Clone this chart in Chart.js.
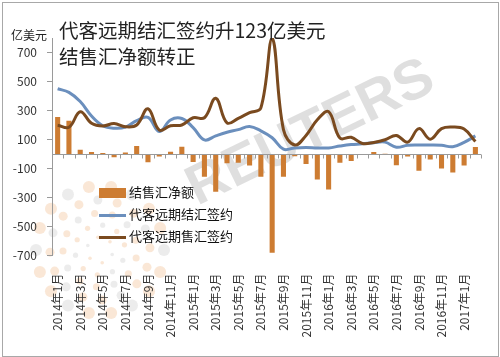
<!DOCTYPE html>
<html>
<head>
<meta charset="utf-8">
<script src="https://cdn.jsdelivr.net/npm/chart.js@4.4.1/dist/chart.umd.min.js"></script>
<style>
  html, body { margin: 0; padding: 0; background: #fff; }
  #wrap { position: relative; width: 500px; height: 357px; overflow: hidden;
          font-family: "Noto Sans CJK SC", "Noto Sans", sans-serif; }
  #frame { position: absolute; left: 2px; top: 2px; width: 495px; height: 353px;
           border: 1px solid #a8a8a8; }
  #logo { position: absolute; left: 0; top: 0; }
  #wm { position: absolute; left: 189px; top: 161px; font: bold 56px/56px "Liberation Sans", sans-serif;
        color: rgba(150,150,150,0.3); transform: rotate(-26deg); transform-origin: 0 50%;
        white-space: nowrap; }
  #c { position: absolute; left: 0; top: 0; }
  #title { position: absolute; left: 59px; top: 17px; font-size: 19.5px; line-height: 26px; color: #222; }
  #unit { position: absolute; left: 11px; top: 26px; font-size: 12px; color: #222; }
  #legend { position: absolute; left: 99px; top: 181px; font-size: 13px; color: #111; }
  #legend div { height: 22px; line-height: 22px; white-space: nowrap; }
  #legend span.key { display: inline-block; width: 27px; margin-right: 3px; vertical-align: middle; }
</style>
</head>
<body>
<div id="wrap">
  <div id="frame"></div>
  <canvas id="logo" width="500" height="357"></canvas>
  <div id="wm">REUTERS</div>
  <canvas id="c" width="500" height="357"></canvas>
  <div id="title">代客远期结汇签约升123亿美元<br>结售汇净额转正</div>
  <div id="unit">亿美元</div>
  <div id="legend"></div>
</div>
<script>
// Месяцы: 2014年1月 … 2017年2月
const months = [
  '2014年1月','2014年2月','2014年3月','2014年4月','2014年5月','2014年6月',
  '2014年7月','2014年8月','2014年9月','2014年10月','2014年11月','2014年12月',
  '2015年1月','2015年2月','2015年3月','2015年4月','2015年5月','2015年6月',
  '2015年7月','2015年8月','2015年9月','2015年10月','2015年11月','2015年12月',
  '2016年1月','2016年2月','2016年3月','2016年4月','2016年5月','2016年6月',
  '2016年7月','2016年8月','2016年9月','2016年10月','2016年11月','2016年12月',
  '2017年1月','2017年2月'
];

// 结售汇净额 (bars)
const netSettlement = [
  255, 230, 30, 14, 7, -22, 10, 55, -57, -17, 15, 50,
  -55, -157, -260, -64, -60, -80, -157, -681, -157, -15, -69, -175,
  -245, -60, -48, -4, 13, 1, -78, -17, -115, -38, -100, -127,
  -80, 48
];

// 代客远期结汇签约 (blue line)
const fwdSettle = [
  450, 425, 362, 262, 195, 178, 185, 230, 252, 155, 235, 245,
  182, 97, 125, 150, 168, 190, 160, 112, 33, 42, 45, 42,
  42, 55, 65, 70, 78, 82, 47, 60, 62, 62, 60, 50,
  80, 125
];

// 代客远期售汇签约 (brown line)
const fwdSale = [
  198, 184, 292, 212, 193, 210, 188, 200, 312, 165, 195, 200,
  250, 250, 384, 215, 246, 285, 318, 798, 168, 62, 128, 236,
  292, 110, 115, 73, 80, 98, 128, 82, 175, 102, 175, 186,
  172, 86
];

const seriesNames = ['结售汇净额', '代客远期结汇签约', '代客远期售汇签约'];
const seriesColors = ['#cd7c32', '#6b8fbd', '#7a4a1f'];
const yTicks = [-700, -500, -300, -100, 100, 300, 500, 700];

// Легенда внутри области графика — простой HTML
const legendEl = document.getElementById('legend');
seriesNames.forEach((name, i) => {
    const row = document.createElement('div');
    const key = document.createElement('span');
    key.className = 'key';
    key.style.height = i === 0 ? '10px' : '3px';
    key.style.background = seriesColors[i];
    row.appendChild(key);
    row.appendChild(document.createTextNode(name));
    legendEl.appendChild(row);
});

// Бледный логотип из точек в левом нижнем углу (фон, не данные)
(function drawLogo() {
    const ctx = document.getElementById('logo').getContext('2d');
    const cx = 100, cy = 250;
    const rings = [[64, 6, 18], [50, 4.5, 16], [37, 3.5, 13], [25, 2.6, 10], [13, 1.8, 6]];
    rings.forEach(([r, dot, n], k) => {
        for (let j = 0; j < n; j++) {
            const a = (j / n) * Math.PI * 2 + k * 0.35;
            ctx.beginPath();
            ctx.arc(cx + r * Math.cos(a), cy + r * Math.sin(a), dot, 0, Math.PI * 2);
            ctx.fillStyle = (j + k) % 3 === 0 ? 'rgba(170,170,170,0.22)' : 'rgba(235,160,90,0.25)';
            ctx.fill();
        }
    });
})();

// Нулевая линия оси X с засечками между категориями
const zeroAxis = {
    id: 'zeroAxis',
    afterDatasetsDraw(chart) {
        const { ctx, chartArea, scales } = chart;
        const y0 = Math.round(scales.y.getPixelForValue(0)) + 0.5;
        const step = (chartArea.right - chartArea.left) / months.length;
        ctx.save();
        ctx.strokeStyle = '#9a9a9a';
        ctx.lineWidth = 1;
        ctx.beginPath();
        ctx.moveTo(chartArea.left, y0);
        ctx.lineTo(chartArea.right, y0);
        for (let i = 0; i <= months.length; i++) {
            const x = Math.round(chartArea.left + i * step) + 0.5;
            ctx.moveTo(x, y0);
            ctx.lineTo(x, y0 + 4);
        }
        ctx.stroke();
        ctx.restore();
    }
};

new Chart(document.getElementById('c'), {
    data: {
        labels: months,
        datasets: [
            {
                type: 'bar', label: seriesNames[0], data: netSettlement,
                backgroundColor: seriesColors[0], order: 3,
                barPercentage: 0.45, categoryPercentage: 1
            },
            {
                type: 'line', label: seriesNames[1], data: fwdSettle,
                borderColor: seriesColors[1], borderWidth: 3, pointRadius: 0,
                tension: 0.4, order: 2
            },
            {
                type: 'line', label: seriesNames[2], data: fwdSale,
                borderColor: seriesColors[2], borderWidth: 3, pointRadius: 0,
                tension: 0.4, order: 1
            }
        ]
    },
    options: {
        responsive: false,
        animation: false,
        layout: { padding: { left: 0, right: 16, top: 38, bottom: 0 } },
        plugins: { legend: { display: false }, title: { display: false }, tooltip: { enabled: false } },
        scales: {
            x: {
                grid: { display: false },
                border: { display: false },
                ticks: {
                    autoSkip: false, minRotation: 90, maxRotation: 90, padding: 10,
                    color: '#333', font: { family: 'Noto Sans CJK SC', size: 12 },
                    callback: (v, i) => (i % 2 === 0 ? months[i] : '')
                },
                afterFit: s => { s.height = 101.5; }
            },
            y: {
                min: -700, max: 800,
                grid: { drawOnChartArea: false, drawTicks: true, tickLength: 5, color: '#9a9a9a' },
                border: { display: true, color: '#9a9a9a' },
                ticks: { padding: 10, color: '#333', font: { family: 'Noto Sans CJK SC', size: 12 } },
                afterBuildTicks: s => { s.ticks = yTicks.map(v => ({ value: v })); },
                afterFit: s => { s.width = 52; }
            }
        }
    },
    plugins: [zeroAxis]
});
</script>
</body>
</html>
